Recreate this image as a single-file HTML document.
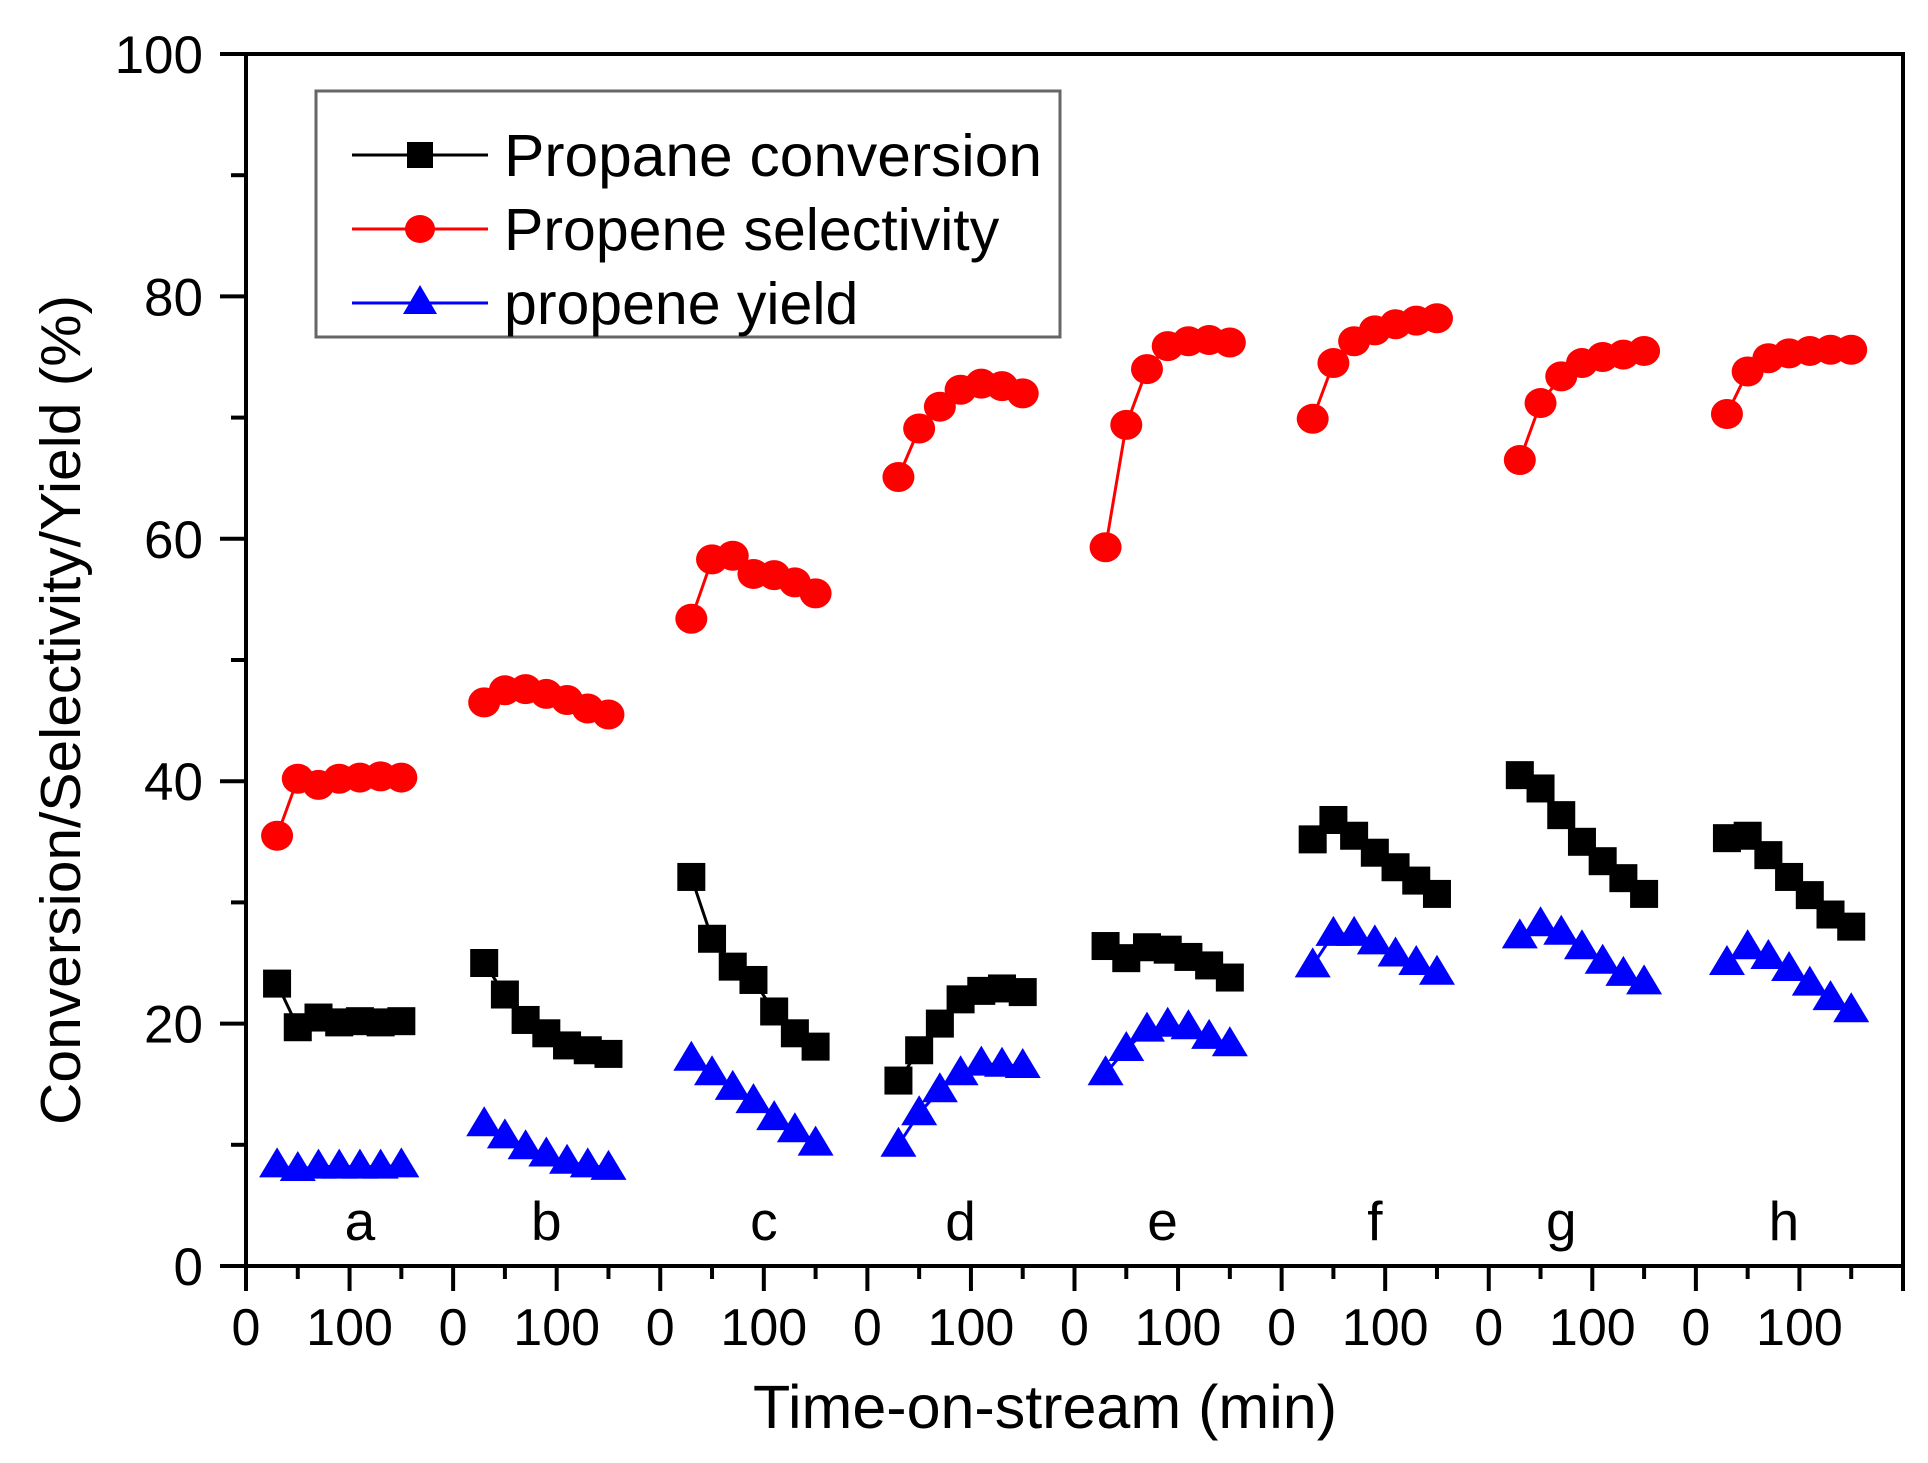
<!DOCTYPE html>
<html><head><meta charset="utf-8"><style>
html,body{margin:0;padding:0;background:#fff;}
svg{display:block;font-family:"Liberation Sans",Arial,sans-serif;}
</style></head><body>
<svg id="chart" width="1928" height="1463" viewBox="0 0 1928 1463" xmlns="http://www.w3.org/2000/svg">
<rect width="1928" height="1463" fill="#fff"/>
<g id="plot"></g>
<text x="1045" y="1428" font-size="61" text-anchor="middle" fill="#000">Time-on-stream (min)</text>
<text transform="translate(80,710) rotate(-90)" font-size="57" text-anchor="middle" textLength="830" lengthAdjust="spacingAndGlyphs" fill="#000">Conversion/Selectivity/Yield (%)</text>
<g>
<rect x="316" y="91" width="744" height="246" fill="none" stroke="#666" stroke-width="3"/>
<line x1="352" y1="155" x2="488" y2="155" stroke="#000" stroke-width="3"/>
<rect x="407" y="142" width="26" height="26" fill="#000"/>
<text x="504" y="176" font-size="59" textLength="538" lengthAdjust="spacingAndGlyphs" fill="#000">Propane conversion</text>
<line x1="352" y1="229" x2="488" y2="229" stroke="#f00" stroke-width="3"/>
<ellipse cx="420" cy="229" rx="15" ry="14" fill="#f00"/>
<text x="504" y="250" font-size="59" fill="#000">Propene selectivity</text>
<line x1="352" y1="303" x2="488" y2="303" stroke="#00f" stroke-width="3"/>
<polygon points="403,314 437,314 420,285" fill="#00f"/>
<text x="504" y="324" font-size="59" fill="#000">propene yield</text>
</g>
</svg>
<script>
const panels = ['a','b','c','d','e','f','g','h'];
const times = [30,50,70,90,110,130,150];
const conversion = [
 [23.3,19.7,20.5,20.1,20.2,20.1,20.2],
 [25.0,22.4,20.3,19.2,18.2,17.8,17.5],
 [32.1,27.0,24.7,23.6,21.0,19.2,18.1],
 [15.3,17.8,20.0,22.0,22.7,22.9,22.6],
 [26.4,25.4,26.3,26.1,25.5,24.8,23.8],
 [35.2,36.8,35.5,34.1,32.9,31.8,30.7],
 [40.5,39.4,37.2,35.0,33.4,32.0,30.7],
 [35.3,35.5,33.9,32.1,30.6,29.0,28.0]];
const selectivity = [
 [35.5,40.2,39.7,40.2,40.3,40.4,40.3],
 [46.5,47.5,47.6,47.2,46.7,46.0,45.5],
 [53.4,58.3,58.6,57.1,57.0,56.4,55.5],
 [65.1,69.1,70.9,72.3,72.8,72.6,72.0],
 [59.3,69.4,74.0,75.9,76.3,76.4,76.2],
 [69.9,74.5,76.3,77.2,77.7,78.0,78.2],
 [66.5,71.2,73.4,74.5,75.0,75.2,75.5],
 [70.3,73.8,74.9,75.3,75.5,75.6,75.6]];
const yieldVals = [
 [8.3,8.0,8.2,8.2,8.2,8.2,8.3],
 [11.7,10.7,9.8,9.2,8.6,8.3,8.1],
 [17.1,15.9,14.7,13.6,12.2,11.2,10.1],
 [10.0,12.6,14.5,15.9,16.7,16.6,16.5],
 [15.9,17.9,19.5,19.9,19.7,18.9,18.3],
 [24.8,27.4,27.4,26.7,25.7,25.0,24.2],
 [27.2,28.2,27.5,26.3,25.1,24.1,23.4],
 [25.0,26.3,25.5,24.5,23.3,22.1,21.1]];
const yTicks = [0,20,40,60,80,100];
const xTickLabels = ['0','100'];
const letterTime = [110,90,100,90,85,90,70,85];

const NS='http://www.w3.org/2000/svg';
const L=246,R=1903,T=54,B=1266,PW=(R-L)/8;
const x=(p,t)=>L+p*PW+t*PW/200;
const y=v=>B-(v/100)*(B-T);
const g=document.getElementById('plot');
function mk(tag,attrs,parent){const e=document.createElementNS(NS,tag);for(const k in attrs)e.setAttribute(k,attrs[k]);(parent||g).appendChild(e);return e;}

const frame=mk('rect',{x:L,y:T,width:R-L,height:B-T,fill:'none',stroke:'#000','stroke-width':4});


for(let v=0;v<=100;v+=10){
  const major=v%20===0;
  const t=mk('line',{x1:L-(major?26:15),x2:L,y1:y(v),y2:y(v),stroke:'#000','stroke-width':4});
  
  
}
yTicks.forEach(v=>{
  const t=mk('text',{x:203,y:y(v)+19,'font-size':53,'text-anchor':'end',fill:'#000'});
  t.textContent=v;
  
  
});
for(let p=0;p<8;p++){
  for(let t=0;t<=200;t+=50){
    if(p<7&&t===200)continue;
    const major=t%100===0;
    const tk=mk('line',{x1:x(p,t),x2:x(p,t),y1:B,y2:B+(major?25:13),stroke:'#000','stroke-width':4});
    
    
  }
  xTickLabels.forEach((lab,i)=>{
    const tx=mk('text',{x:x(p,i*100),y:1345,'font-size':52,'text-anchor':'middle',fill:'#000'});
    tx.textContent=lab;
    
    
  });
  const lt=mk('text',{x:x(p,letterTime[p]),y:1240,'font-size':55,'text-anchor':'middle',fill:'#000'});
  lt.textContent=panels[p];
  
  
}
function series(data,color,shape,name){
  for(let p=0;p<8;p++){
    const pts=times.map((t,i)=>x(p,t)+','+y(data[p][i])).join(' ');
    const pl=mk('polyline',{points:pts,fill:'none',stroke:color,'stroke-width':3});
    
    
    times.forEach((t,i)=>{
      const cx=x(p,t),cy=y(data[p][i]);let m;
      if(shape==='sq')m=mk('rect',{x:cx-14,y:cy-14,width:28,height:28,fill:color});
      else if(shape==='ci')m=mk('ellipse',{cx:cx,cy:cy,rx:16,ry:15,fill:color});
      else m=mk('polygon',{points:(cx-18)+','+(cy+12)+' '+(cx+18)+','+(cy+12)+' '+cx+','+(cy-18),fill:color});
      
      
    });
  }
}
series(selectivity,'#f00','ci','selectivity');
series(conversion,'#000','sq','conversion');
series(yieldVals,'#00f','tr','yield');
</script>
</body></html>
